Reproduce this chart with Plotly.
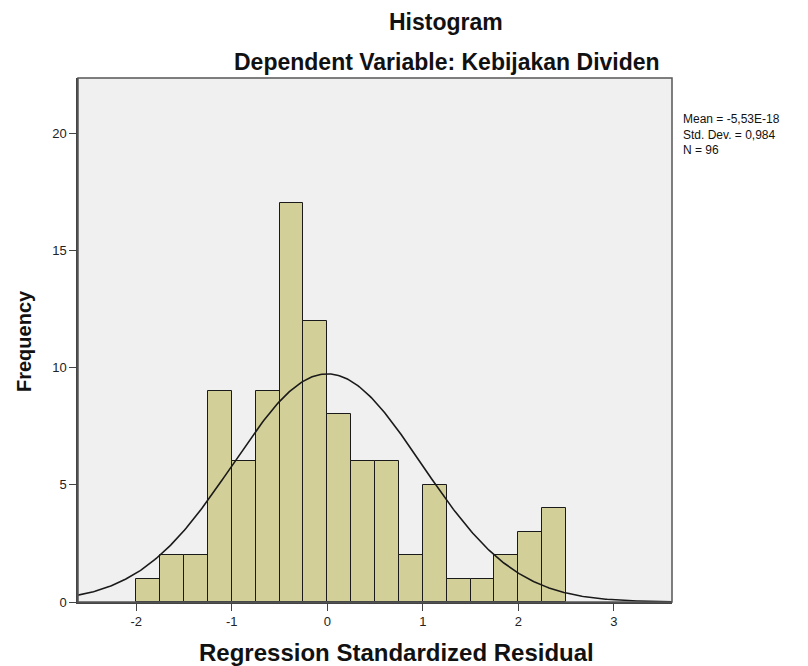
import numpy as np
import plotly.graph_objects as go

# Data
bin_left = [-2.0, -1.75, -1.5, -1.25, -1.0, -0.75, -0.5, -0.25, 0.0, 0.25,
            0.5, 0.75, 1.0, 1.25, 1.5, 1.75, 2.0, 2.25]
counts = [1, 2, 2, 9, 6, 9, 17, 12, 8, 6, 6, 2, 5, 1, 1, 2, 3, 4]
bin_width = 0.25
mean_val = -5.53e-18
std_val = 0.984
n_val = 96
x_ticks = [-2, -1, 0, 1, 2, 3]
y_ticks = [0, 5, 10, 15, 20]

centers = [b + bin_width / 2 for b in bin_left]

# Fitted normal curve (as SPSS draws it)
xs = np.linspace(-2.62, 3.62, 400)
ys = n_val * bin_width * np.exp(-0.5 * ((xs - mean_val) / std_val) ** 2) / (std_val * np.sqrt(2 * np.pi))

fig = go.Figure()
fig.add_trace(go.Bar(x=centers, y=counts, width=bin_width,
                     marker=dict(color="#D3CF98", line=dict(color="#1a1a1a", width=1)),
                     hoverinfo="skip"))
fig.add_trace(go.Scatter(x=xs, y=ys, mode="lines",
                         line=dict(color="#1a1a1a", width=1.6), hoverinfo="skip"))

L, R, T, B = 78, 136, 78, 64
PW, PH = 808 - L - R, 666 - T - B

def px_x(px):
    return (px - L) / PW

def px_y(py):
    return (666 - B - py) / PH

font_family = "Liberation Sans, Arial, sans-serif"
fig.update_layout(
    width=808, height=666,
    margin=dict(l=L, r=R, t=T, b=B, autoexpand=False),
    paper_bgcolor="white", plot_bgcolor="#F0F0F0",
    showlegend=False, bargap=0,
    font=dict(family=font_family, color="#222"),
    xaxis=dict(range=[-2.61, 3.61], tickvals=x_ticks, ticktext=[str(t) for t in x_ticks],
               ticks="outside", ticklen=7, tickcolor="#444", showgrid=False, zeroline=False,
               showline=True, linecolor="#444", linewidth=1.5, mirror=False, automargin=False,
               tickfont=dict(size=13, color="#222")),
    yaxis=dict(range=[0, 22.35], tickvals=y_ticks, ticktext=[str(t) for t in y_ticks],
               ticks="outside", ticklen=7, tickcolor="#444", showgrid=False, zeroline=False,
               showline=True, linecolor="#444", linewidth=1.5, automargin=False,
               tickfont=dict(size=13, color="#222")),
    shapes=[dict(type="rect", xref="paper", yref="paper", x0=0, y0=0, x1=1, y1=1,
                 line=dict(color="#555", width=1.5), layer="above")],
    annotations=[
        dict(text="<b>Histogram</b>", xref="paper", yref="paper", x=px_x(446), y=px_y(22),
             showarrow=False, xanchor="center", yanchor="middle",
             font=dict(size=23, color="#111")),
        dict(text="<b>Dependent Variable: Kebijakan Dividen</b>", xref="paper", yref="paper",
             x=px_x(447), y=px_y(62), showarrow=False, xanchor="center",
             yanchor="middle", font=dict(size=23, color="#111")),
        dict(text="<b>Regression Standardized Residual</b>", xref="paper", yref="paper",
             x=px_x(396), y=px_y(652), showarrow=False, xanchor="center",
             yanchor="middle", font=dict(size=24, color="#111")),
        dict(text="<b>Frequency</b>", xref="paper", yref="paper",
             x=px_x(24), y=px_y(341), showarrow=False, xanchor="center",
             yanchor="middle", textangle=-90, font=dict(size=20, color="#111")),
        dict(text="Mean = -5,53E-18<br>Std. Dev. = 0,984<br>N = 96", xref="paper", yref="paper",
             x=1, xshift=9, y=1, yshift=-32, showarrow=False, xanchor="left", yanchor="top",
             align="left", font=dict(size=12, color="#111")),
    ],
)

fig.write_html("out.html", config={"displayModeBar": False},
               post_script="document.body.style.margin='0';")
